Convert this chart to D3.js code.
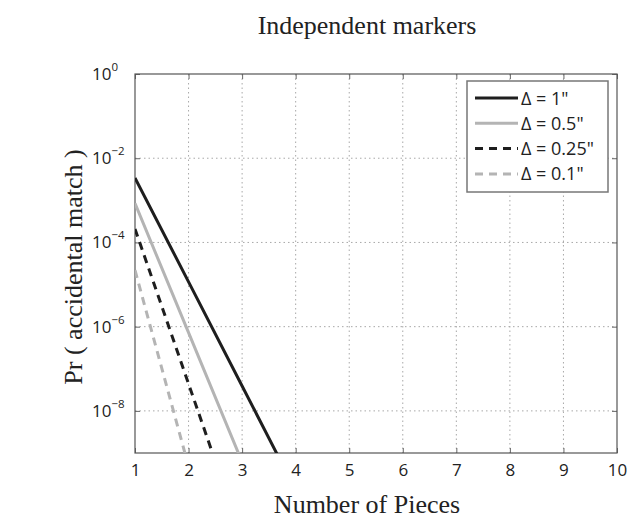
<!DOCTYPE html>
<html>
<head>
<meta charset="utf-8">
<script src="https://cdn.jsdelivr.net/npm/d3@7/dist/d3.min.js"></script>
<style>
  html, body { margin: 0; padding: 0; background: #fff; }
  svg { display: block; }
</style>
</head>
<body>
<svg id="chart" width="627" height="520"></svg>
<script>
// Number of pieces (x) and probability of an accidental match (log y)
const pieces = [1, 2, 3, 4];
const prDelta1   = [3.4e-3, 1.16e-5, 3.9e-8, 1.3e-10];
const prDelta05  = [8.5e-4, 7.2e-7, 6.1e-10, 5.2e-13];
const prDelta025 = [2.1e-4, 4.4e-8, 9.3e-12, 2.0e-15];
const prDelta01  = [2.2e-5, 4.8e-10, 1.1e-14, 2.3e-19];

const seriesNames = ['\u0394 = 1"', '\u0394 = 0.5"', '\u0394 = 0.25"', '\u0394 = 0.1"'];
const xTicks = [1, 2, 3, 4, 5, 6, 7, 8, 9, 10];
const yTickExps = [0, -2, -4, -6, -8];

const series = [
  { name: seriesNames[0], values: prDelta1,   color: '#1e1e1e', dash: null },
  { name: seriesNames[1], values: prDelta05,  color: '#b4b4b4', dash: null },
  { name: seriesNames[2], values: prDelta025, color: '#1e1e1e', dash: '8,6' },
  { name: seriesNames[3], values: prDelta01,  color: '#b4b4b4', dash: '8,6' }
];

const svg = d3.select('#chart');
const m = { left: 135, top: 74, right: 617, bottom: 453 };

const x = d3.scaleLinear().domain([1, 10]).range([m.left, m.right]);
const y = d3.scaleLog().domain([1e-9, 1]).range([m.bottom, m.top]);

const sans = "'Open Sans', 'DejaVu Sans', sans-serif";
const serif = "'Liberation Serif', 'Times New Roman', serif";

// clip region for the plot area
svg.append('defs').append('clipPath').attr('id', 'plotClip')
  .append('rect')
  .attr('x', m.left).attr('y', m.top)
  .attr('width', m.right - m.left).attr('height', m.bottom - m.top);

// dotted grid
const grid = svg.append('g');
grid.selectAll('line.vx').data(xTicks.slice(1, -1)).enter().append('line')
  .attr('x1', d => x(d)).attr('x2', d => x(d))
  .attr('y1', m.top).attr('y2', m.bottom)
  .attr('stroke', '#a8a8a8').attr('stroke-width', 1).attr('stroke-dasharray', '1.5,3');
grid.selectAll('line.hy').data(yTickExps.slice(1)).enter().append('line')
  .attr('x1', m.left).attr('x2', m.right)
  .attr('y1', d => y(Math.pow(10, d))).attr('y2', d => y(Math.pow(10, d)))
  .attr('stroke', '#a8a8a8').attr('stroke-width', 1).attr('stroke-dasharray', '1.5,3');

// axes with inward ticks
const xAxis = d3.axisBottom(x).tickValues(xTicks).tickSize(-5).tickPadding(11).tickFormat(d3.format('d'));
const gx = svg.append('g').attr('transform', `translate(0,${m.bottom})`).call(xAxis);
gx.select('.domain').remove();
gx.selectAll('line').attr('stroke', '#666');
gx.selectAll('text').attr('font-family', sans).attr('font-size', 17).attr('fill', '#222');

const gxTop = svg.append('g').attr('transform', `translate(0,${m.top})`)
  .call(d3.axisTop(x).tickValues(xTicks).tickSize(-5).tickFormat(''));
gxTop.select('.domain').remove();
gxTop.selectAll('line').attr('stroke', '#666');

const yAxis = d3.axisLeft(y).tickValues(yTickExps.map(e => Math.pow(10, e))).tickSize(-5).tickFormat('');
const gy = svg.append('g').attr('transform', `translate(${m.left},0)`).call(yAxis);
gy.select('.domain').remove();
gy.selectAll('line').attr('stroke', '#666');

const gyR = svg.append('g').attr('transform', `translate(${m.right},0)`)
  .call(d3.axisRight(y).tickValues(yTickExps.map(e => Math.pow(10, e))).tickSize(-5).tickFormat(''));
gyR.select('.domain').remove();
gyR.selectAll('line').attr('stroke', '#666');

// y tick labels: 10 with superscript exponent
const yl = svg.append('g');
yTickExps.forEach(e => {
  const t = yl.append('text')
    .attr('y', y(Math.pow(10, e)) + 6)
    .attr('text-anchor', 'start')
    .attr('font-family', sans).attr('font-size', 17).attr('fill', '#222');
  t.append('tspan').text('10').attr('x', 92);
  t.append('tspan').text(e === 0 ? '0' : '\u2212' + Math.abs(e))
    .attr('font-size', 11.5).attr('dy', -9);
});

// frame
svg.append('rect')
  .attr('x', m.left).attr('y', m.top)
  .attr('width', m.right - m.left).attr('height', m.bottom - m.top)
  .attr('fill', 'none').attr('stroke', '#555').attr('stroke-width', 1.2);

// series lines
const line = d3.line().x((d, i) => x(pieces[i])).y(d => y(d));
const plot = svg.append('g').attr('clip-path', 'url(#plotClip)');
series.forEach(s => {
  plot.append('path')
    .datum(s.values)
    .attr('d', line)
    .attr('fill', 'none')
    .attr('stroke', s.color)
    .attr('stroke-width', 3)
    .attr('stroke-dasharray', s.dash);
});

// legend
const lg = svg.append('g');
lg.append('rect')
  .attr('x', 467).attr('y', 81).attr('width', 141).attr('height', 111)
  .attr('fill', '#fff').attr('stroke', '#777').attr('stroke-width', 1.5);
series.forEach((s, i) => {
  const yy = 98 + i * 25.3;
  lg.append('line')
    .attr('x1', 475).attr('x2', 518).attr('y1', yy).attr('y2', yy)
    .attr('stroke', s.color).attr('stroke-width', 3)
    .attr('stroke-dasharray', s.dash);
  lg.append('text')
    .attr('x', 521).attr('y', yy + 6.5)
    .attr('font-family', sans).attr('font-size', 18).attr('fill', '#222')
    .text(s.name);
});

// title and axis labels
svg.append('text')
  .attr('x', 367).attr('y', 34).attr('text-anchor', 'middle')
  .attr('font-family', serif).attr('font-size', 26).attr('fill', '#222')
  .text('Independent markers');
svg.append('text')
  .attr('x', 367).attr('y', 513).attr('text-anchor', 'middle')
  .attr('font-family', serif).attr('font-size', 26).attr('fill', '#222')
  .text('Number of Pieces');
svg.append('text')
  .attr('transform', 'translate(82,267) rotate(-90)')
  .attr('text-anchor', 'middle')
  .attr('font-family', serif).attr('font-size', 26).attr('fill', '#222')
  .text('Pr ( accidental match )');
</script>
</body>
</html>
